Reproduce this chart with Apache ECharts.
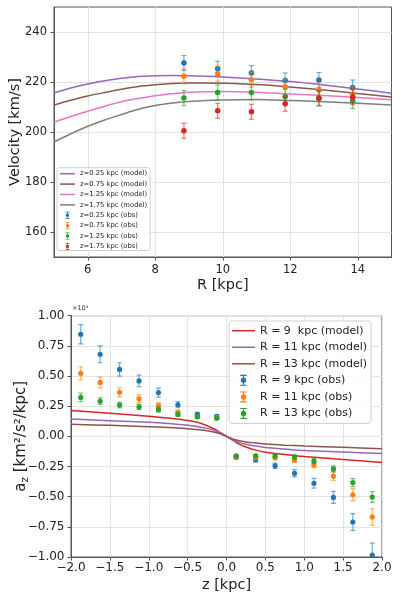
<!DOCTYPE html>
<html>
<head>
<meta charset="utf-8">
<script src="https://cdn.jsdelivr.net/npm/echarts@6/dist/echarts.min.js"></script>
<style>
html,body{margin:0;padding:0;background:#fff;}
#c{width:400px;height:601px;}
</style>
</head>
<body>
<div id="c"></div>
<script>
// ---------- Top panel: rotation curves ----------
const modelR = [5, 5.5, 6, 6.5, 7, 7.5, 8, 8.5, 9, 9.5, 10, 11, 12, 13, 14, 15];
const vModelZ025 = [215.6, 217.6, 219.2, 220.5, 221.5, 222.2, 222.5, 222.6, 222.5, 222.3, 222.0, 221.2, 220.2, 218.8, 217.2, 215.5];
const vModelZ075 = [210.8, 212.7, 214.4, 215.8, 217.1, 218.2, 218.9, 219.4, 219.6, 219.6, 219.5, 219.0, 218.0, 216.8, 215.4, 214.0];
const vModelZ125 = [203.9, 206.2, 208.3, 210.3, 212.1, 213.4, 214.5, 215.3, 215.9, 216.1, 216.2, 215.9, 215.2, 214.6, 213.8, 212.9];
const vModelZ175 = [196.0, 199.3, 202.3, 204.8, 207.0, 209.1, 210.6, 211.6, 212.2, 212.6, 212.8, 213.0, 212.6, 212.1, 211.5, 210.8];

const obsR = [8.85, 9.85, 10.85, 11.85, 12.85, 13.85];
const vObsZ025 = [227.6, 225.3, 223.6, 220.6, 220.8, 217.8];
const vErrZ025 = [3.0, 3.0, 3.0, 3.0, 3.0, 3.0];
const vObsZ075 = [222.3, 223.3, 220.9, 218.1, 216.8, 215.1];
const vErrZ075 = [3.0, 3.0, 3.0, 3.0, 3.0, 3.0];
const vObsZ125 = [213.6, 215.8, 215.8, 214.1, 213.4, 212.4];
const vErrZ125 = [3.0, 3.0, 3.0, 3.0, 3.0, 3.0];
const vObsZ175 = [200.5, 208.5, 208.1, 211.3, 213.6, 213.9];
const vErrZ175 = [3.0, 3.0, 3.0, 3.0, 3.0, 3.0];

const topXTicks = [6, 8, 10, 12, 14];
const topYTicks = [160, 180, 200, 220, 240];

// ---------- Bottom panel: vertical acceleration (units of 1e4) ----------
const modelZ = [-2, -1.5, -1, -0.75, -0.5, -0.35, -0.25, -0.15, -0.1, -0.05, 0, 0.05, 0.1, 0.15, 0.25, 0.35, 0.5, 0.75, 1, 1.5, 2];
const azModelR9  = [0.215, 0.192, 0.167, 0.152, 0.132, 0.112, 0.088, 0.060, 0.040, 0.021, 0, -0.021, -0.040, -0.060, -0.088, -0.110, -0.131, -0.150, -0.167, -0.192, -0.217];
const azModelR11 = [0.144, 0.130, 0.116, 0.106, 0.092, 0.078, 0.066, 0.048, 0.034, 0.018, 0, -0.018, -0.034, -0.048, -0.066, -0.078, -0.092, -0.105, -0.117, -0.130, -0.143];
const azModelR13 = [0.100, 0.091, 0.080, 0.073, 0.063, 0.054, 0.046, 0.034, 0.025, 0.013, 0, -0.013, -0.025, -0.034, -0.046, -0.054, -0.063, -0.073, -0.080, -0.091, -0.102];

const obsZ = [-1.875, -1.625, -1.375, -1.125, -0.875, -0.625, -0.375, -0.125, 0.125, 0.375, 0.625, 0.875, 1.125, 1.375, 1.625, 1.875];
const azObsR9  = [0.846, 0.680, 0.555, 0.459, 0.363, 0.262, 0.183, 0.166, -0.173, -0.196, -0.244, -0.306, -0.389, -0.506, -0.710, -0.985];
const azErrR9  = [0.080, 0.070, 0.055, 0.048, 0.038, 0.025, 0.015, 0.012, 0.012, 0.016, 0.022, 0.030, 0.040, 0.050, 0.070, 0.100];
const azObsR11 = [0.522, 0.447, 0.365, 0.311, 0.254, 0.199, 0.163, 0.156, -0.167, -0.174, -0.178, -0.196, -0.235, -0.330, -0.484, -0.668];
const azErrR11 = [0.055, 0.045, 0.038, 0.033, 0.025, 0.018, 0.012, 0.010, 0.010, 0.012, 0.016, 0.020, 0.025, 0.035, 0.050, 0.068];
const azObsR13 = [0.323, 0.291, 0.260, 0.243, 0.221, 0.181, 0.163, 0.150, -0.162, -0.162, -0.163, -0.170, -0.205, -0.270, -0.383, -0.503];
const azErrR13 = [0.035, 0.028, 0.024, 0.022, 0.020, 0.015, 0.012, 0.010, 0.010, 0.012, 0.013, 0.015, 0.020, 0.025, 0.033, 0.045];

// ---------- helpers ----------
const C = {blue:'#1f77b4', orange:'#ff7f0e', green:'#2ca02c', red:'#d62728', purple:'#9467bd', brown:'#8c564b', pink:'#e377c2', gray:'#7f7f7f'};
const FONT = 'DejaVu Sans';
const ERR_ICON = 'path://M0,0H6V1H0Z M0,9H6V10H0Z M2.5,0H3.5V10H2.5Z M0.5,5A2.5,2.5 0 1,1 5.5,5A2.5,2.5 0 1,1 0.5,5Z';
const LINE_ICON_TOP = 'path://M0,0H15V1.5H0Z';
const LINE_ICON_BOT = 'path://M0,0H23V1.5H0Z';
const minus = s => s.replace('-', '\u2212');

function pairs(xs, ys) { return xs.map((x, i) => [x, ys[i]]); }
function triples(xs, ys, es) { return xs.map((x, i) => [x, ys[i], es[i]]); }

function lineSeries(name, xs, ys, color, gi) {
  return {
    type: 'line', name: name, xAxisIndex: gi, yAxisIndex: gi,
    data: pairs(xs, ys), showSymbol: false, symbol: 'none',
    smooth: 0.3,
    lineStyle: {color: color, width: 1.5}, itemStyle: {color: color},
    emphasis: {disabled: true}, z: 2
  };
}
function errSeries(name, xs, ys, es, color, gi, r) {
  return {
    type: 'custom', name: name, xAxisIndex: gi, yAxisIndex: gi, clip: true,
    data: triples(xs, ys, es), encode: {x: 0, y: 1},
    itemStyle: {color: color}, z: 3,
    renderItem: function (params, api) {
      const x = api.value(0), y = api.value(1), e = api.value(2);
      const p = api.coord([x, y]);
      const t = api.coord([x, y + e]);
      const b = api.coord([x, y - e]);
      const cap = 2.5;
      const ls = {stroke: color, lineWidth: 1.2, opacity: 0.6};
      return {type: 'group', children: [
        {type: 'line', shape: {x1: p[0], y1: t[1], x2: p[0], y2: b[1]}, style: ls},
        {type: 'line', shape: {x1: p[0] - cap, y1: t[1], x2: p[0] + cap, y2: t[1]}, style: ls},
        {type: 'line', shape: {x1: p[0] - cap, y1: b[1], x2: p[0] + cap, y2: b[1]}, style: ls},
        {type: 'circle', shape: {cx: p[0], cy: p[1], r: r}, style: {fill: color}}
      ]};
    }
  };
}

const axisCommon = {
  axisLine: {show: true, onZero: false, lineStyle: {color: '#555', width: 1}},
  axisTick: {show: true, inside: false, length: 3.5, lineStyle: {color: '#555'}},
  splitLine: {show: true, lineStyle: {color: '#e3e3e3', width: 1}},
  nameMoveOverlap: false
};

const chart = echarts.init(document.getElementById('c'), null, {renderer: 'canvas'});
chart.setOption({
  animation: false,
  backgroundColor: '#fff',
  textStyle: {fontFamily: FONT},
  grid: [
    {left: 54, right: 8.5, top: 7, height: 250, show: true, borderColor: '#555', borderWidth: 1,
     containLabel: false, outerBoundsMode: 'none'},
    {left: 71, right: 18, top: 315.7, height: 241.3, show: true, borderColor: '#555', borderWidth: 1,
     containLabel: false, outerBoundsMode: 'none'}
  ],
  xAxis: [
    Object.assign({}, axisCommon, {
      type: 'value', gridIndex: 0, min: 5, max: 15,
      axisTick: Object.assign({}, axisCommon.axisTick, {customValues: topXTicks}),
      axisLabel: {customValues: topXTicks, fontSize: 11.5, margin: 7.5, color: '#222', fontFamily: FONT},
      name: 'R [kpc]', nameLocation: 'middle', nameGap: 21,
      nameTextStyle: {fontSize: 14.5, color: '#222', fontFamily: FONT}
    }),
    Object.assign({}, axisCommon, {
      type: 'value', gridIndex: 1, min: -2, max: 2, interval: 0.5,
      axisLabel: {fontSize: 12, margin: 4.5, color: '#222', fontFamily: FONT,
        formatter: v => minus(v.toFixed(1))},
      name: 'z [kpc]', nameLocation: 'middle', nameGap: 21,
      nameTextStyle: {fontSize: 14.5, color: '#222', fontFamily: FONT}
    })
  ],
  yAxis: [
    Object.assign({}, axisCommon, {
      type: 'value', gridIndex: 0, min: 150, max: 250,
      axisTick: Object.assign({}, axisCommon.axisTick, {customValues: topYTicks}),
      axisLabel: {customValues: topYTicks, fontSize: 11.5, margin: 7, color: '#222', fontFamily: FONT},
      name: 'Velocity [km/s]', nameLocation: 'middle', nameRotate: 90, nameGap: 31,
      nameTextStyle: {fontSize: 14.5, color: '#222', fontFamily: FONT}
    }),
    Object.assign({}, axisCommon, {
      type: 'value', gridIndex: 1, min: -1, max: 1, interval: 0.25,
      axisLabel: {fontSize: 12, margin: 6.5, color: '#222', fontFamily: FONT,
        formatter: v => minus(v.toFixed(2))},
      name: '{a|a}{s|z}{a| [km\u00b2/s\u00b2/kpc]}', nameLocation: 'middle', nameRotate: 90, nameGap: 40,
      nameTextStyle: {color: '#222', fontFamily: FONT,
        rich: {
          a: {fontSize: 15, lineHeight: 20, color: '#222', fontFamily: FONT},
          s: {fontSize: 10.5, lineHeight: 10, verticalAlign: 'bottom', color: '#222', fontFamily: FONT}
        }}
    })
  ],
  legend: [
    {
      orient: 'vertical', left: 57, top: 167.7, padding: [2.5, 3, 0.5, 3],
      itemWidth: 15, itemHeight: 7, itemGap: 3.4, selectedMode: false,
      backgroundColor: 'rgba(255,255,255,0.85)', borderColor: '#d0d0d0', borderWidth: 1, borderRadius: 2,
      textStyle: {fontSize: 6.8, lineHeight: 7, color: '#222', fontFamily: FONT},
      data: [
        {name: 'z=0.25 kpc (model)', icon: LINE_ICON_TOP}, {name: 'z=0.75 kpc (model)', icon: LINE_ICON_TOP},
        {name: 'z=1.25 kpc (model)', icon: LINE_ICON_TOP}, {name: 'z=1.75 kpc (model)', icon: LINE_ICON_TOP},
        {name: 'z=0.25 kpc (obs)', icon: ERR_ICON}, {name: 'z=0.75 kpc (obs)', icon: ERR_ICON},
        {name: 'z=1.25 kpc (obs)', icon: ERR_ICON}, {name: 'z=1.75 kpc (obs)', icon: ERR_ICON}
      ]
    },
    {
      orient: 'vertical', left: 229, top: 321, padding: [4.2, 4, 4.5, 3],
      itemWidth: 23, itemHeight: 11, itemGap: 5.55, selectedMode: false,
      backgroundColor: 'rgba(255,255,255,0.85)', borderColor: '#d0d0d0', borderWidth: 1, borderRadius: 3,
      textStyle: {fontSize: 11, lineHeight: 11, color: '#222', fontFamily: FONT},
      data: [
        {name: 'R = 9  kpc (model)', icon: LINE_ICON_BOT}, {name: 'R = 11 kpc (model)', icon: LINE_ICON_BOT},
        {name: 'R = 13 kpc (model)', icon: LINE_ICON_BOT},
        {name: 'R = 9 kpc (obs)', icon: ERR_ICON}, {name: 'R = 11 kpc (obs)', icon: ERR_ICON},
        {name: 'R = 13 kpc (obs)', icon: ERR_ICON}
      ]
    }
  ],
  graphic: [
    {type: 'text', left: 72, top: 305, style: {text: '\u00d710\u2074', fontSize: 6.5, fill: '#333', fontFamily: FONT}}
  ],
  series: [
    lineSeries('z=0.25 kpc (model)', modelR, vModelZ025, C.purple, 0),
    lineSeries('z=0.75 kpc (model)', modelR, vModelZ075, C.brown, 0),
    lineSeries('z=1.25 kpc (model)', modelR, vModelZ125, C.pink, 0),
    lineSeries('z=1.75 kpc (model)', modelR, vModelZ175, C.gray, 0),
    errSeries('z=0.25 kpc (obs)', obsR, vObsZ025, vErrZ025, C.blue, 0, 2.8),
    errSeries('z=0.75 kpc (obs)', obsR, vObsZ075, vErrZ075, C.orange, 0, 2.8),
    errSeries('z=1.25 kpc (obs)', obsR, vObsZ125, vErrZ125, C.green, 0, 2.8),
    errSeries('z=1.75 kpc (obs)', obsR, vObsZ175, vErrZ175, C.red, 0, 2.8),

    lineSeries('R = 9  kpc (model)', modelZ, azModelR9, C.red, 1),
    lineSeries('R = 11 kpc (model)', modelZ, azModelR11, C.purple, 1),
    lineSeries('R = 13 kpc (model)', modelZ, azModelR13, C.brown, 1),
    errSeries('R = 9 kpc (obs)', obsZ, azObsR9, azErrR9, C.blue, 1, 2.6),
    errSeries('R = 11 kpc (obs)', obsZ, azObsR11, azErrR11, C.orange, 1, 2.6),
    errSeries('R = 13 kpc (obs)', obsZ, azObsR13, azErrR13, C.green, 1, 2.6)
  ]
});
</script>
</body>
</html>
